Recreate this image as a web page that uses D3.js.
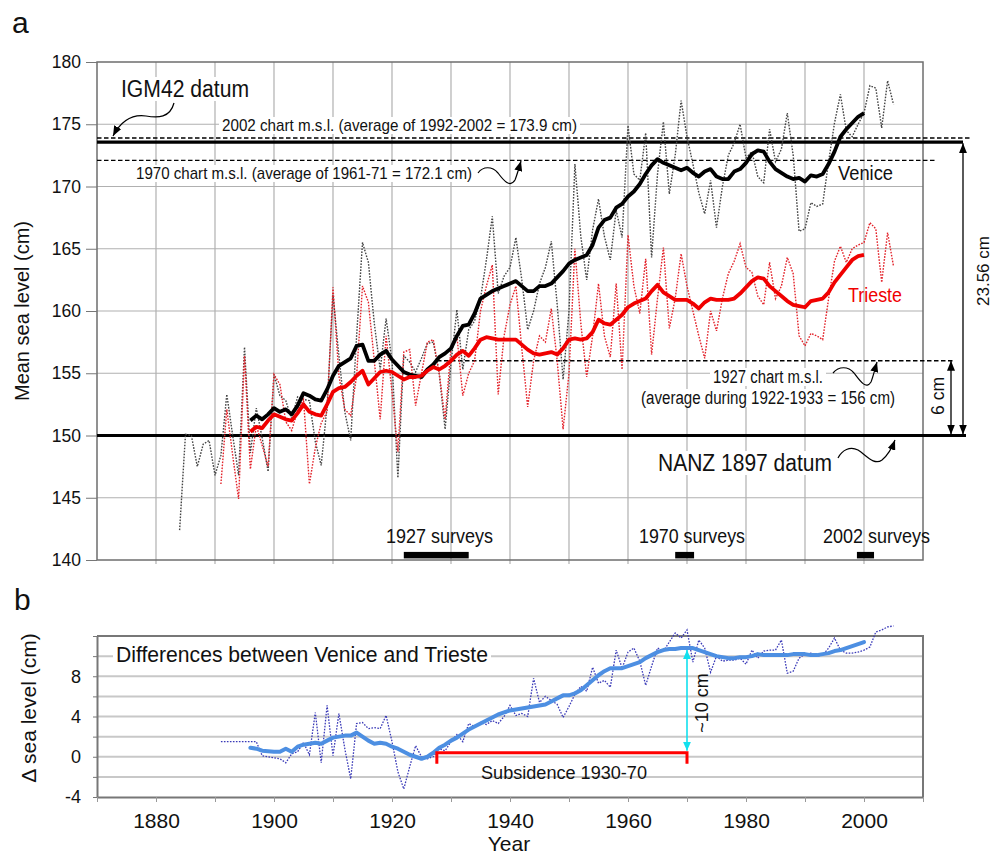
<!DOCTYPE html>
<html>
<head>
<meta charset="utf-8">
<title>venice_trieste_msl</title>
<script src="https://d3js.org/d3.v7.min.js"></script>
<style>
  body { margin: 0; background: #fff; }
  text { font-family: "Liberation Sans", Arial, sans-serif; fill: #111; }
</style>
</head>
<body>
<svg id="chart" width="995" height="858"></svg>
<script>
// ---- data ----
const veniceStart = 1884
const veniceAnnual = [142.4,150.1,150.0,147.5,149.3,149.6,146.8,
  148.4,153.3,150.0,146.8,157.1,148.6,152.2,149.8,147.1,
  154.9,153.2,152.8,151.3,153.1,152.9,152.8,149.5,147.6,152.4,
  161.3,156.4,151.9,149.6,158.0,165.5,163.9,159.0,155.3,159.4,
  156.0,146.6,156.4,155.9,155.1,156.2,157.4,157.5,155.0,150.5,
  155.8,160.1,155.3,158.5,159.2,161.0,164.1,167.6,161.4,162.8,
  163.5,165.9,162.5,158.5,160.0,162.2,163.5,165.6,160.5,154.5,
  160.0,171.8,166.0,162.5,166.5,169.0,166.0,164.1,168.1,165.9,
  174.9,171.0,170.5,174.3,164.3,171.0,175.2,169.4,172.5,176.9,
  174.0,171.8,169.5,167.8,170.5,166.7,170.0,172.5,173.5,175.0,
  172.3,172.8,170.8,170.3,174.6,172.0,173.0,175.9,172.5,166.4,
  166.6,168.7,168.4,168.6,172.0,175.1,177.4,174.5,174.0,175.0,
  175.9,178.1,177.9,174.7,178.5,176.6]

const triesteStart = 1891
const triesteAnnual = [146.1,152.1,148.4,144.9,156.4,147.3,150.8,149.2,147.5,
  154.9,154.1,151.1,150.4,152.0,152.9,146.1,149.0,151.0,151.9,
  161.9,154.8,152.1,151.6,154.8,162.0,160.7,156.0,151.3,158.0,
  153.5,148.7,156.7,156.9,152.4,155.0,157.5,157.7,155.0,151.3,
  157.0,158.0,153.2,155.0,156.0,160.0,162.0,163.7,153.3,158.0,
  160.5,162.0,157.0,152.3,156.0,158.0,157.5,160.2,156.0,150.5,
  155.0,165.0,159.0,154.7,158.0,162.2,158.0,156.3,162.2,155.3,
  166.1,162.0,159.8,164.2,156.5,161.0,165.1,158.6,161.0,164.6,
  162.0,160.0,158.0,156.2,160.0,158.4,161.0,163.0,164.0,165.4,
  163.5,163.1,161.2,160.5,163.9,161.0,162.0,164.3,163.0,158.0,
  157.2,158.2,158.0,157.7,161.0,164.0,165.2,163.9,165.0,165.3,
  165.5,167.1,166.6,162.3,166.3,163.6]

const smoothStart = 1896
const veniceSmooth = [151.2,151.6,151.3,151.7,
  152.2,151.9,152.1,151.7,152.4,153.4,153.2,152.9,152.8,153.7,
  154.8,155.6,155.9,156.2,157.2,157.3,156.0,156.0,156.5,156.8,
  156.1,155.6,155.1,154.9,154.8,154.7,155.3,155.7,156.3,156.6,
  157.0,158.0,158.8,158.9,159.8,161.0,161.3,161.6,161.8,162.0,
  162.2,162.4,162.0,161.6,161.6,162.0,162.0,162.2,162.7,163.2,
  163.8,164.1,164.3,164.5,165.3,166.7,167.3,167.5,168.3,168.6,
  169.2,169.6,170.2,171.0,171.7,172.2,171.9,171.7,171.5,171.3,
  171.5,171.1,170.8,171.2,171.4,170.8,170.6,170.6,171.2,171.4,
  171.9,172.6,172.9,172.8,172.0,171.4,171.1,170.8,170.6,170.7,
  170.4,170.9,170.8,171.0,171.8,172.8,174.0,174.6,175.1,175.6,
  175.9]
const triesteSmooth = [150.3,150.7,150.6,151.2,
  151.7,151.5,151.3,151.2,151.8,152.5,151.9,151.7,151.6,152.5,
  153.5,153.8,153.9,154.3,154.8,155.2,154.1,154.6,155.1,155.2,
  155.1,154.8,154.5,154.7,154.7,154.8,155.2,155.5,155.3,155.6,
  156.0,156.5,156.8,156.4,157.0,157.7,157.9,157.8,157.7,157.7,
  157.7,157.7,157.3,156.9,156.6,156.5,156.6,156.7,156.5,157.0,
  157.7,157.8,157.7,157.8,158.3,159.3,159.0,158.9,159.3,159.7,
  160.3,160.6,160.8,161.0,161.6,162.1,161.5,161.2,160.9,160.9,
  160.9,160.6,160.2,160.7,161.0,160.9,160.9,160.9,161.0,161.4,
  161.9,162.4,162.7,162.6,162.0,161.6,161.2,160.8,160.5,160.4,
  160.3,160.8,160.9,161.0,161.5,162.3,162.9,163.5,164.1,164.4,
  164.5]

const diffStart = 1891
const diffAnnual = [1.5,1.5,1.5,1.5,1.5,1.5,1.5,0.1,0.0,
  -0.1,-0.2,-0.6,0.3,0.5,1.4,0.2,4.4,-0.6,5.1,
  0.1,4.3,0.8,-2.2,3.3,3.4,2.8,2.9,2.8,4.1,
  1.5,-1.5,-3.2,-1.0,1.1,0.0,-0.2,0.0,0.8,0.6,
  1.5,2.2,1.5,3.3,3.0,3.4,3.2,3.6,3.3,4.0,
  5.1,4.1,4.3,4.0,7.8,5.4,6.0,5.6,5.2,3.9,
  5.0,6.2,7.0,6.5,8.9,7.3,7.6,6.9,10.6,8.8,
  10.4,10.8,9.5,7.1,9.0,10.8,10.5,11.4,12.3,11.8,
  12.6,9.4,11.6,10.8,8.4,10.0,9.5,9.6,9.6,9.8,
  9.2,10.6,9.8,10.5,10.6,10.6,11.6,8.3,8.5,9.8,
  10.2,10.3,10.0,10.1,10.8,11.8,10.6,10.3,10.3,10.4,
  10.6,10.9,12.4,12.6,12.9,13.0]
const diffSmooth = [0.9,0.8,0.6,0.55,
  0.5,0.5,0.8,0.5,1.0,1.2,1.3,1.4,1.3,1.6,
  1.9,2.0,2.1,2.1,2.4,2.0,1.6,1.3,1.4,1.3,
  1.0,0.8,0.5,0.2,0.0,-0.2,0.0,0.4,0.9,1.2,
  1.6,1.9,2.3,2.7,3.0,3.3,3.6,3.9,4.2,4.4,
  4.6,4.7,4.8,4.9,5.0,5.1,5.2,5.5,5.8,6.1,
  6.1,6.3,6.6,7.1,7.6,8.1,8.5,8.8,8.8,8.8,
  9.0,9.2,9.4,9.8,10.1,10.4,10.6,10.7,10.7,10.8,
  10.8,10.8,10.6,10.4,10.2,10.0,9.9,9.8,9.8,9.9,
  9.9,10.0,10.2,10.1,10.1,10.1,10.1,10.1,10.2,10.2,
  10.2,10.1,10.1,10.2,10.3,10.5,10.6,10.8,11.0,11.2,
  11.4]

// reference levels (cm) and survey periods
const nanzDatum = 150, igmDatum = 173.56
const chart1927 = 156, chart1970 = 172.1, chart2002 = 173.9
const surveyLabels = ["1927 surveys", "1970 surveys", "2002 surveys"]
const surveyPeriods = [[1922, 1933], [1968, 1971.2], [1998.8, 2001.7]]
const subsidence = [1927.6, 1970]

// ---- helpers ----
const toPts = (start, arr) => arr.map((v, i) => ({year: start + i, value: v}))
const svg = d3.select('#chart')

const defs = svg.append('defs')
function marker(id, color, len, wid) {
  defs.append('marker').attr('id', id)
    .attr('viewBox', `0 0 ${len} ${wid}`).attr('refX', len).attr('refY', wid / 2)
    .attr('markerWidth', len).attr('markerHeight', wid)
    .attr('markerUnits', 'userSpaceOnUse').attr('orient', 'auto-start-reverse')
    .append('path').attr('d', `M0,0L${len},${wid / 2}L0,${wid}Z`).attr('fill', color)
}
marker('ah', '#000', 10, 8)
marker('ahc', '#11e0ee', 9, 8)

function label(g, txt, x, y, size, opts = {}) {
  let t = g.append('text').attr('x', x).attr('y', y)
    .attr('font-size', size).text(txt)
  if (opts.len) t.attr('textLength', opts.len).attr('lengthAdjust', 'spacingAndGlyphs')
  if (opts.fill) t.style('fill', opts.fill)
  if (opts.bg) {
    let b = t.node().getBBox()
    g.insert('rect', () => t.node())
      .attr('x', b.x - 3).attr('y', b.y + 1).attr('width', b.width + 6).attr('height', b.height - 2)
      .attr('fill', '#fff')
  }
  return t
}
function vlabel(g, txt, cx, cy, size) {
  g.append('text').attr('transform', `translate(${cx},${cy}) rotate(-90)`)
    .attr('text-anchor', 'middle').attr('dy', '0.35em')
    .attr('font-size', size).text(txt)
}

// ---- scales ----
const x = d3.scaleLinear().domain([1870, 2010]).range([97, 923])
const yA = d3.scaleLinear().domain([140, 180]).range([560, 62])
const yB = d3.scaleLinear().domain([-4, 12]).range([797, 636])

// ================= panel a =================
const gA = svg.append('g')
gA.selectAll('.vg').data(d3.range(1880, 2010, 10)).enter().append('line')
  .attr('x1', d => x(d)).attr('x2', d => x(d))
  .attr('y1', yA(180)).attr('y2', yA(140) + 4)
  .attr('stroke', '#b0b0b0').attr('stroke-width', 1.2)
gA.selectAll('.hg').data(d3.range(145, 180, 5)).enter().append('line')
  .attr('x1', x(1870)).attr('x2', x(2010))
  .attr('y1', d => yA(d)).attr('y2', d => yA(d))
  .attr('stroke', '#b0b0b0').attr('stroke-width', 1.2)
gA.append('rect').attr('x', x(1870)).attr('y', yA(180))
  .attr('width', x(2010) - x(1870)).attr('height', yA(140) - yA(180))
  .attr('fill', 'none').attr('stroke', '#6e6e6e').attr('stroke-width', 1.5)

const axA = gA.append('g').attr('transform', `translate(${x(1870)},0)`)
  .call(d3.axisLeft(yA).tickValues(d3.range(140, 181, 5)).tickSize(11).tickPadding(5).tickSizeOuter(0))
axA.select('.domain').remove()
axA.selectAll('line').attr('stroke', '#777')
axA.selectAll('text').attr('font-size', 17.5).attr('font-family', '"Liberation Sans", Arial, sans-serif').style('fill', '#111')

// annotation lines (drawn under the series)
const dash = '4.5,2.5'
gA.append('line').attr('x1', x(1870)).attr('x2', 970).attr('y1', yA(chart2002)).attr('y2', yA(chart2002))
  .attr('stroke', '#000').attr('stroke-width', 1.4).attr('stroke-dasharray', dash)
gA.append('line').attr('x1', x(1870)).attr('x2', 935).attr('y1', yA(chart1970)).attr('y2', yA(chart1970))
  .attr('stroke', '#000').attr('stroke-width', 1.4).attr('stroke-dasharray', dash)
gA.append('line').attr('x1', 437).attr('x2', 953).attr('y1', yA(chart1927)).attr('y2', yA(chart1927))
  .attr('stroke', '#000').attr('stroke-width', 1.4).attr('stroke-dasharray', dash)
gA.append('line').attr('x1', x(1870)).attr('x2', 963).attr('y1', yA(igmDatum)).attr('y2', yA(igmDatum))
  .attr('stroke', '#000').attr('stroke-width', 3.2)
gA.append('line').attr('x1', x(1870)).attr('x2', 966).attr('y1', yA(nanzDatum)).attr('y2', yA(nanzDatum))
  .attr('stroke', '#000').attr('stroke-width', 3.2)

// series
const lineA = d3.line().x(d => x(d.year)).y(d => yA(d.value))
gA.append('path').datum(toPts(veniceStart, veniceAnnual)).attr('d', lineA)
  .attr('fill', 'none').attr('stroke', '#444').attr('stroke-width', 1.4).attr('stroke-dasharray', '1.6,1.4')
gA.append('path').datum(toPts(triesteStart, triesteAnnual)).attr('d', lineA)
  .attr('fill', 'none').attr('stroke', '#e3222a').attr('stroke-width', 1.4).attr('stroke-dasharray', '1.6,1.4')
gA.append('path').datum(toPts(smoothStart, veniceSmooth)).attr('d', lineA)
  .attr('fill', 'none').attr('stroke', '#000').attr('stroke-width', 3.8).attr('stroke-linejoin', 'round')
gA.append('path').datum(toPts(smoothStart, triesteSmooth)).attr('d', lineA)
  .attr('fill', 'none').attr('stroke', '#f00000').attr('stroke-width', 3.8).attr('stroke-linejoin', 'round')

// survey bars
gA.selectAll('.sv').data(surveyPeriods).enter().append('rect')
  .attr('x', d => x(d[0])).attr('width', d => x(d[1]) - x(d[0]))
  .attr('y', yA(140.65)).attr('height', 6.5).attr('fill', '#000')
label(gA, surveyLabels[0], 386, 543, 20, {len: 107})
label(gA, surveyLabels[1], 639, 543, 20, {len: 106})
label(gA, surveyLabels[2], 823, 543, 20, {len: 107})

// texts
label(gA, 'IGM42 datum', 121, 97, 23, {len: 128, bg: true})
label(gA, '2002 chart m.s.l. (average of 1992-2002 = 173.9 cm)', 222, 131, 17, {len: 355, bg: true})
label(gA, '1970 chart m.s.l. (average of 1961-71 = 172.1 cm)', 136, 179, 17, {len: 336, bg: true})
label(gA, 'Venice', 838, 180, 21, {len: 55})
label(gA, 'Trieste', 848, 302, 21, {len: 54, fill: '#f00000'})
label(gA, '1927 chart m.s.l.', 713, 383, 18, {len: 110, bg: true})
label(gA, '(average during 1922-1933 = 156 cm)', 641, 404, 18, {len: 254, bg: true})
label(gA, 'NANZ 1897 datum', 658, 471, 23, {len: 174, bg: true})

// curly pointers
const curls = [
  'M174,103 C170,118 158,118 146,116 C132,114 121,121 113,136',
  'M478,173 C483,166 492,166 498,173 C504,181 510,188 515,180 C517,175 519,168 521,161',
  'M833,373 C839,366 848,366 854,373 C860,381 866,390 871,382 C873,377 875,369 877,362',
  'M838,458 C842,450 850,446 858,450 C866,455 874,466 882,460 C888,455 892,448 895,440'
]
gA.selectAll('.curl').data(curls).enter().append('path')
  .attr('d', d => d).attr('fill', 'none').attr('stroke', '#000').attr('stroke-width', 1.2)
  .attr('marker-end', 'url(#ah)')

// double arrows on the right
gA.append('line').attr('x1', 951).attr('x2', 951).attr('y1', yA(chart1927)).attr('y2', yA(nanzDatum) - 1)
  .attr('stroke', '#000').attr('stroke-width', 1.3)
  .attr('marker-start', 'url(#ah)').attr('marker-end', 'url(#ah)')
gA.append('line').attr('x1', 963).attr('x2', 963).attr('y1', yA(igmDatum) + 1).attr('y2', yA(nanzDatum) - 1)
  .attr('stroke', '#000').attr('stroke-width', 1.3)
  .attr('marker-start', 'url(#ah)').attr('marker-end', 'url(#ah)')
vlabel(gA, '6 cm', 938, 396, 17.5)
vlabel(gA, '23.56 cm', 983, 271, 17)

vlabel(svg, 'Mean sea level (cm)', 22, 311, 20)
label(svg, 'a', 12, 33, 30)

// ================= panel b =================
const gB = svg.append('g')
gB.selectAll('.hg').data(d3.range(-2, 12, 2)).enter().append('line')
  .attr('x1', x(1870)).attr('x2', x(2010))
  .attr('y1', d => yB(d)).attr('y2', d => yB(d))
  .attr('stroke', '#c8c8c8').attr('stroke-width', 2)
gB.append('path')
  .attr('d', `M${x(1870)},${yB(12)}H${x(2010)}V${yB(-4)}`)
  .attr('fill', 'none').attr('stroke', '#777').attr('stroke-width', 2)

const axBy = gB.append('g').attr('transform', `translate(${x(1870)},0)`)
  .call(d3.axisLeft(yB).tickValues(d3.range(-4, 13, 2)).tickSize(4).tickPadding(12).tickSizeOuter(0)
    .tickFormat(d => (d % 4 === 0 && d < 12) ? String(d) : ''))
axBy.select('.domain').attr('stroke', '#777').attr('stroke-width', 2)
axBy.selectAll('line').attr('stroke', '#777')
axBy.selectAll('text').attr('font-size', 18).attr('font-family', '"Liberation Sans", Arial, sans-serif').style('fill', '#111')

const axBx = gB.append('g').attr('transform', `translate(0,${yB(-4)})`)
  .call(d3.axisBottom(x).tickValues(d3.range(1870, 2011, 10)).tickSize(5).tickPadding(11).tickSizeOuter(0)
    .tickFormat(d => (d % 20 === 0 && d > 1870) ? String(d) : ''))
axBx.select('.domain').attr('stroke', '#777').attr('stroke-width', 2)
axBx.selectAll('line').attr('stroke', '#999')
axBx.selectAll('text').attr('font-size', 21).attr('font-family', '"Liberation Sans", Arial, sans-serif').style('fill', '#111')

label(gB, 'Differences between Venice and Trieste', 116, 662, 22, {len: 372, bg: true})

const lineB = d3.line().x(d => x(d.year)).y(d => yB(d.value))
gB.append('path').datum(toPts(diffStart, diffAnnual)).attr('d', lineB)
  .attr('fill', 'none').attr('stroke', '#3a3ab8').attr('stroke-width', 1.3).attr('stroke-dasharray', '1.6,1.4')
gB.append('path').datum(toPts(smoothStart, diffSmooth)).attr('d', lineB)
  .attr('fill', 'none').attr('stroke', '#4d8fe2').attr('stroke-width', 4).attr('stroke-linejoin', 'round')
  .attr('stroke-linecap', 'round')

// subsidence bracket
gB.append('path')
  .attr('d', `M${x(subsidence[0])},${yB(-0.7)}V${yB(0.4)}H${x(subsidence[1])}V${yB(-0.7)}`)
  .attr('fill', 'none').attr('stroke', '#ff0000').attr('stroke-width', 3)
label(gB, 'Subsidence 1930-70', 481, 779, 18, {len: 166})

// ~10 cm arrow
gB.append('line').attr('x1', x(1970)).attr('x2', x(1970)).attr('y1', yB(0.6)).attr('y2', yB(10.6))
  .attr('stroke', '#11e0ee').attr('stroke-width', 1.6)
  .attr('marker-start', 'url(#ahc)').attr('marker-end', 'url(#ahc)')
vlabel(gB, '~10 cm', 702, 703, 18)

vlabel(svg, 'Δ sea level (cm)', 29, 708, 21)
label(svg, 'b', 14, 610, 30)
svg.append('text').attr('x', 509).attr('y', 851).attr('text-anchor', 'middle')
  .attr('font-size', 21).text('Year')
</script>
</body>
</html>
